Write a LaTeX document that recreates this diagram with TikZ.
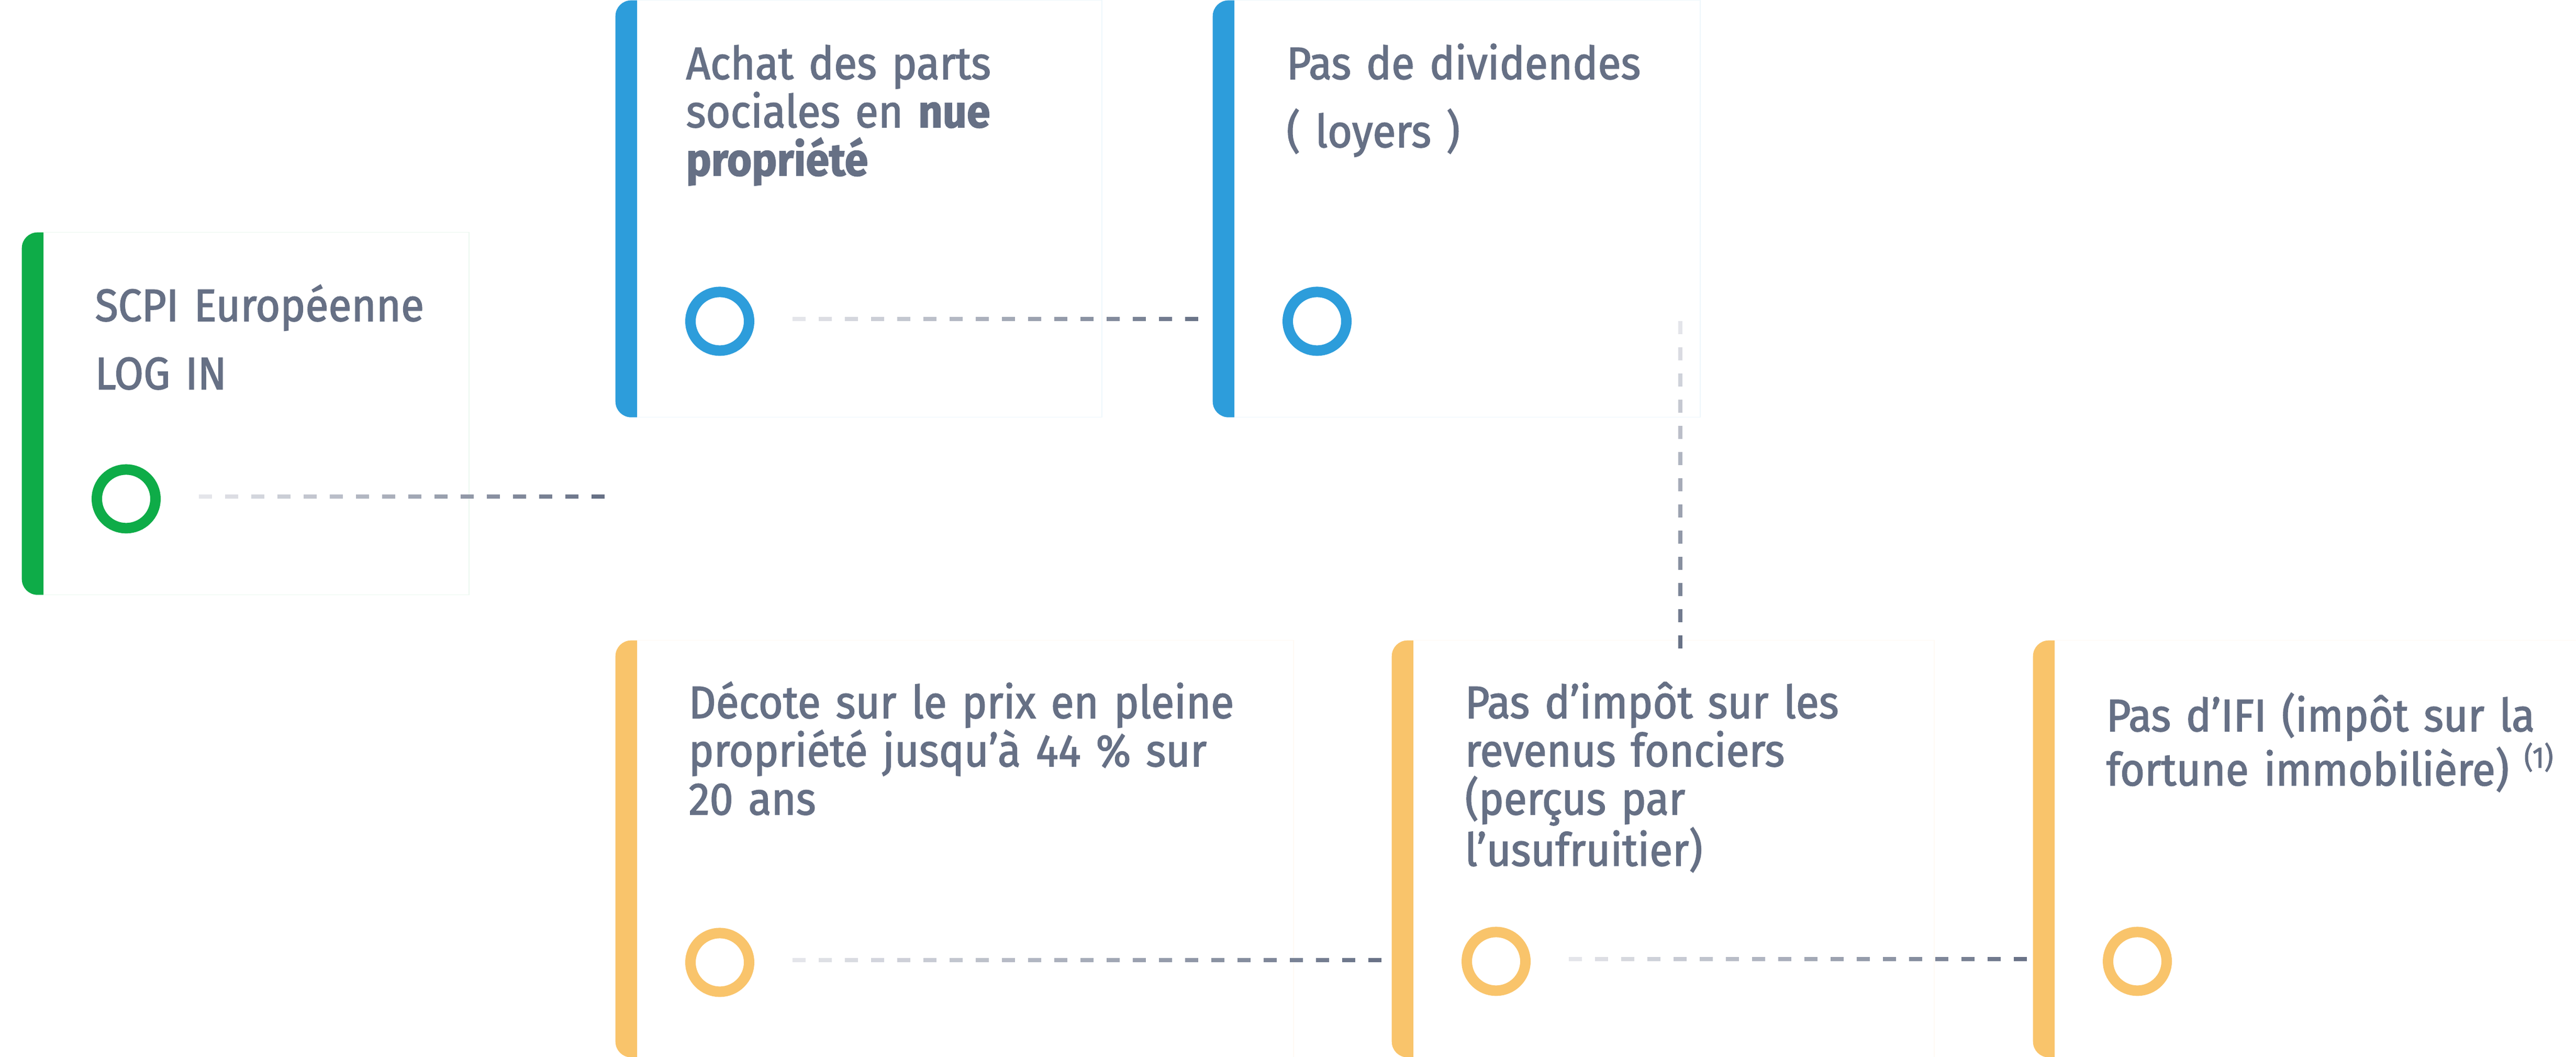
\documentclass[tikz,border=0pt]{standalone}
\usepackage{fontspec}
\setmainfont[FakeStretch=0.93, FakeBold=1.8]{Fira Sans}
\usetikzlibrary{positioning, calc, decorations.markings}
\definecolor{slate}{RGB}{102, 112, 133}
\definecolor{haze}{RGB}{228, 229, 234}
\definecolor{leafgreen}{RGB}{14, 172, 72}
\definecolor{skyblue}{RGB}{45, 157, 219}
\definecolor{sandyellow}{RGB}{249, 196, 107}

\begin{document}
\begin{tikzpicture}[
    stripe/.style={fill=#1, rounded corners=0.3cm, inner sep=0, minimum width=0.72cm, anchor=north west},
    card/.style={fill=white, draw=#1!8, line width=0.015cm, inner sep=0, anchor=north west},
    ring/.style={circle, draw=#1, line width=0.2cm, minimum size=1.12cm, inner sep=0, fill=white},
    blurb/.style={text=slate, inner sep=0, anchor=base west, text width=12cm, align=left, font=\fontsize{24.7pt}{26.2pt}\selectfont},
    loose/.style={blurb, font=\fontsize{24.7pt}{37pt}\selectfont},
    link/.style={postaction={decorate}, decoration={markings, mark=between positions 0 and 1 step 0.5cm with {%
        \pgfmathsetmacro\linkmix{100*(\pgfkeysvalueof{/pgf/decoration/mark info/distance from start}/\pgfdecoratedpathlength)}
        \fill[slate!\linkmix!haze] (0,-0.04) rectangle (0.25,0.04);}}}
]
    \useasboundingbox (0,0) rectangle (49.21,20.18);

    % Starting point
    \node[stripe=leafgreen, minimum height=6.92cm] (gstripe) at (0.41,15.75) {};
    \node[card=leafgreen, minimum width=8.12cm, minimum height=6.92cm] (gcard) at ([xshift=0.42cm]gstripe.north west) {};
    \node[loose] (gtext) at ($(gstripe.north west)+(1.40,-1.70)$) {SCPI Européenne\\LOG IN};
    \node[ring=leafgreen] (gring) at ($(gstripe.south west)+(2.00,1.84)$) {};

    % Top row (blue)
    \node[stripe=skyblue, minimum height=7.96cm] (b1stripe) at (11.75,20.18) {};
    \node[card=skyblue, minimum width=8.87cm, minimum height=7.96cm] (b1card) at ([xshift=0.42cm]b1stripe.north west) {};
    \node[blurb] (b1text) at ($(b1stripe.north west)+(1.35,-1.51)$) {Achat des parts\\sociales en \textbf{nue}\\\textbf{propriété}};
    \node[ring=skyblue] (b1ring) at ($(b1stripe.south west)+(2.00,1.84)$) {};

    \node[stripe=skyblue, minimum height=7.96cm] (b2stripe) at (23.16,20.18) {};
    \node[card=skyblue, minimum width=8.89cm, minimum height=7.96cm] (b2card) at ([xshift=0.42cm]b2stripe.north west) {};
    \node[loose] (b2text) at ($(b2stripe.north west)+(1.41,-1.51)$) {Pas de dividendes\\( loyers )};
    \node[ring=skyblue] (b2ring) at ($(b2stripe.south west)+(2.00,1.84)$) {};

    % Bottom row (yellow)
    \node[stripe=sandyellow, minimum height=7.96cm] (y1stripe) at (11.75,7.96) {};
    \node[card=sandyellow, minimum width=12.53cm, minimum height=7.96cm] (y1card) at ([xshift=0.42cm]y1stripe.north west) {};
    \node[blurb] (y1text) at ($(y1stripe.north west)+(1.40,-1.49)$) {Décote sur le prix en pleine\\propriété jusqu’à 44 \% sur\\20 ans};
    \node[ring=sandyellow] (y1ring) at ($(y1stripe.south west)+(2.00,1.82)$) {};

    \node[stripe=sandyellow, minimum height=7.96cm] (y2stripe) at (26.58,7.96) {};
    \node[card=sandyellow, minimum width=9.94cm, minimum height=7.96cm] (y2card) at ([xshift=0.42cm]y2stripe.north west) {};
    \node[blurb] (y2text) at ($(y2stripe.north west)+(1.40,-1.49)$) {Pas d’impôt sur les\\revenus fonciers\\(perçus par\\l’usufruitier)};
    \node[ring=sandyellow] (y2ring) at ($(y2stripe.south west)+(2.00,1.84)$) {};

    \node[stripe=sandyellow, minimum height=7.96cm] (y3stripe) at (38.83,7.96) {};
    \node[card=sandyellow, minimum width=9.96cm, minimum height=7.96cm] (y3card) at ([xshift=0.42cm]y3stripe.north west) {};
    \node[blurb, text width=9.5cm] (y3text) at ($(y3stripe.north west)+(1.40,-1.74)$) {Pas d’IFI (impôt sur la\\fortune immobilière) \raisebox{0.34cm}{\fontsize{16pt}{16pt}\selectfont(1)}};
    \node[ring=sandyellow] (y3ring) at ($(y3stripe.south west)+(2.00,1.84)$) {};

    % Dashed links
    \coordinate (drop) at ($(b2card.east |- b2ring)+(-0.39,0)$);
    \path[link] ([shift={(0.73,0.04)}]gring.east) -- ($(b1stripe.west |- gring.east)+(-0.37,0.04)$);
    \path[link] ([shift={(0.73,0.04)}]b1ring.east) -- ($(b2stripe.west |- b1ring.east)+(-0.28,0.04)$);
    \path[link] (drop) -- (drop |- y2card.north);
    \path[link] ([shift={(0.73,0.04)}]y1ring.east) -- ($(y2stripe.west |- y1ring.east)+(-0.20,0.04)$);
    \path[link] ([shift={(0.73,0.04)}]y2ring.east) -- ($(y3stripe.west |- y2ring.east)+(-0.11,0.04)$);

\end{tikzpicture}
\end{document}
